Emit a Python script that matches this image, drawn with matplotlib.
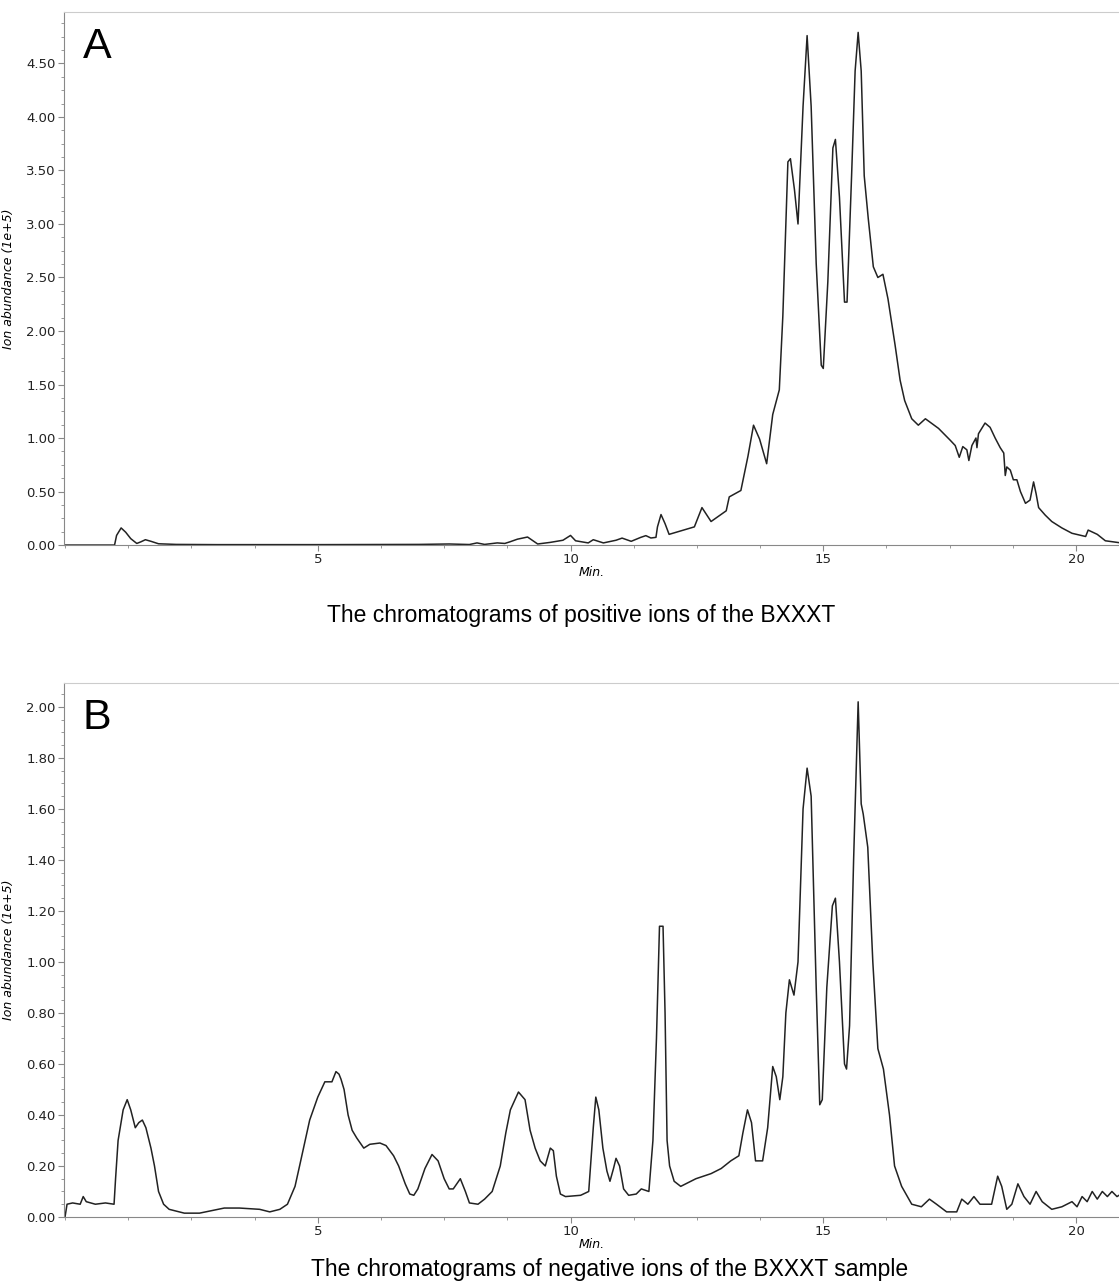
import matplotlib.pyplot as plt
from matplotlib.ticker import MultipleLocator, FormatStrFormatter

# positive ion chromatogram (A)
pos_time = [0, 0.98, 1.02, 1.11, 1.2, 1.3, 1.42, 1.5, 1.59, 1.7, 1.85, 2.2, 3.0, 5.0, 7.0, 7.6,
            8.0, 8.15, 8.3, 8.55, 8.7, 8.8, 8.95, 9.15, 9.35, 9.6, 9.85, 10.0, 10.1, 10.35, 10.45,
            10.65, 10.9, 11.02, 11.2, 11.39, 11.49, 11.59, 11.69, 11.72, 11.79, 11.87, 11.95, 12.45,
            12.60, 12.78, 13.08, 13.14, 13.37, 13.51, 13.62, 13.74, 13.88, 14.00, 14.13, 14.20,
            14.30, 14.35, 14.43, 14.50, 14.60, 14.68, 14.76, 14.86, 14.96, 15.00, 15.09, 15.19,
            15.24, 15.32, 15.42, 15.47, 15.56, 15.63, 15.69, 15.75, 15.81, 15.89, 15.99, 16.08,
            16.18, 16.28, 16.42, 16.52, 16.61, 16.75, 16.88, 17.02, 17.28, 17.51, 17.61, 17.69,
            17.76, 17.84, 17.88, 17.94, 18.02, 18.04, 18.07, 18.20, 18.30, 18.40, 18.50, 18.57,
            18.60, 18.63, 18.70, 18.76, 18.83, 18.90, 19.0, 19.09, 19.16, 19.21, 19.26, 19.39,
            19.52, 19.72, 19.92, 20.19, 20.24, 20.42, 20.58, 20.89]
pos_abund = [0, 0, 0.09, 0.16, 0.12, 0.06, 0.015, 0.03, 0.05, 0.035, 0.012, 0.006, 0.004, 0.004,
             0.006, 0.01, 0.005, 0.02, 0.006, 0.02, 0.015, 0.03, 0.055, 0.075, 0.01, 0.025, 0.045,
             0.09, 0.04, 0.02, 0.05, 0.02, 0.045, 0.065, 0.035, 0.072, 0.088, 0.066, 0.072, 0.17,
             0.285, 0.2, 0.10, 0.17, 0.35, 0.22, 0.32, 0.45, 0.51, 0.83, 1.12, 0.99, 0.76, 1.22,
             1.45, 2.14, 3.58, 3.61, 3.32, 3.0, 4.10, 4.76, 4.10, 2.63, 1.68, 1.65, 2.46, 3.71,
             3.79, 3.25, 2.27, 2.27, 3.45, 4.43, 4.79, 4.43, 3.45, 3.05, 2.60, 2.50, 2.53, 2.30,
             1.87, 1.54, 1.35, 1.18, 1.12, 1.18, 1.09, 0.98, 0.93, 0.82, 0.92, 0.89, 0.79, 0.93,
             1.0, 0.91, 1.04, 1.14, 1.10, 1.0, 0.91, 0.86, 0.65, 0.73, 0.70, 0.61, 0.61, 0.50,
             0.39, 0.42, 0.59, 0.48, 0.35, 0.28, 0.22, 0.16, 0.11, 0.08, 0.14, 0.10, 0.04, 0.02]

# negative ion chromatogram (B)
neg_time = [0.0, 0.04, 0.15, 0.3, 0.36, 0.42, 0.6, 0.8, 0.97, 1.0, 1.05, 1.15, 1.23, 1.3, 1.39,
            1.46, 1.53, 1.6, 1.7, 1.77, 1.85, 1.95, 2.06, 2.36, 2.66, 2.9, 3.15, 3.45, 3.85, 4.05,
            4.25, 4.4, 4.55, 4.64, 4.75, 4.84, 5.0, 5.14, 5.28, 5.36, 5.42, 5.46, 5.52, 5.6, 5.68,
            5.77, 5.91, 6.03, 6.23, 6.35, 6.5, 6.6, 6.73, 6.82, 6.9, 6.98, 7.12, 7.26, 7.38, 7.5,
            7.6, 7.68, 7.82, 7.92, 8.0, 8.17, 8.3, 8.45, 8.61, 8.72, 8.81, 8.97, 9.1, 9.2, 9.3,
            9.4, 9.5, 9.6, 9.66, 9.72, 9.8, 9.9, 10.2, 10.36, 10.45, 10.5, 10.56, 10.64, 10.72,
            10.78, 10.85, 10.9, 10.97, 11.05, 11.15, 11.3, 11.4, 11.55, 11.63, 11.7, 11.76, 11.83,
            11.87, 11.91, 11.96, 12.05, 12.18, 12.48, 12.78, 12.98, 13.17, 13.33, 13.41, 13.5,
            13.58, 13.66, 13.8, 13.9, 14.0, 14.07, 14.14, 14.2, 14.26, 14.33, 14.42, 14.5, 14.6,
            14.68, 14.76, 14.86, 14.93, 14.98, 15.07, 15.18, 15.24, 15.32, 15.42, 15.46, 15.52,
            15.6, 15.69, 15.75, 15.79, 15.88, 15.98, 16.08, 16.19, 16.31, 16.41, 16.55, 16.75,
            16.94, 17.1, 17.24, 17.44, 17.64, 17.74, 17.86, 17.98, 18.1, 18.33, 18.45, 18.53,
            18.63, 18.73, 18.85, 18.97, 19.09, 19.21, 19.33, 19.52, 19.72, 19.92, 20.02, 20.12,
            20.22, 20.32, 20.42, 20.52, 20.62, 20.71, 20.81, 20.89]
neg_abund = [0.0, 0.05, 0.055, 0.05, 0.08, 0.06, 0.05, 0.055, 0.05, 0.15, 0.3, 0.42, 0.46, 0.42,
             0.35, 0.37, 0.38, 0.35, 0.27, 0.2, 0.1, 0.05, 0.03, 0.015, 0.015, 0.025, 0.035,
             0.035, 0.03, 0.02, 0.03, 0.05, 0.12, 0.2, 0.3, 0.38, 0.47, 0.53, 0.53, 0.57, 0.56,
             0.54, 0.5, 0.4, 0.34, 0.31, 0.27, 0.285, 0.29, 0.28, 0.24, 0.2, 0.13, 0.09, 0.085,
             0.11, 0.19, 0.245, 0.22, 0.15, 0.11, 0.11, 0.15, 0.1, 0.055, 0.05, 0.07, 0.1, 0.2,
             0.33, 0.42, 0.49, 0.46, 0.34, 0.27, 0.22, 0.2, 0.27, 0.26, 0.16, 0.09, 0.08, 0.085,
             0.1, 0.35, 0.47, 0.42, 0.27, 0.18, 0.14, 0.19, 0.23, 0.2, 0.11, 0.085, 0.09, 0.11,
             0.1, 0.3, 0.7, 1.14, 1.14, 0.8, 0.3, 0.2, 0.14, 0.12, 0.15, 0.17, 0.19, 0.22, 0.24,
             0.33, 0.42, 0.37, 0.22, 0.22, 0.35, 0.59, 0.55, 0.46, 0.55, 0.8, 0.93, 0.87, 1.0,
             1.6, 1.76, 1.65, 0.9, 0.44, 0.46, 0.9, 1.22, 1.25, 1.0, 0.6, 0.58, 0.75, 1.4, 2.02,
             1.62, 1.58, 1.45, 1.0, 0.66, 0.58, 0.4, 0.2, 0.12, 0.05, 0.04, 0.07, 0.05, 0.02,
             0.02, 0.07, 0.05, 0.08, 0.05, 0.05, 0.16, 0.12, 0.03, 0.05, 0.13, 0.08, 0.05, 0.1,
             0.06, 0.03, 0.04, 0.06, 0.04, 0.08, 0.06, 0.1, 0.07, 0.1, 0.08, 0.1, 0.08, 0.09]

plt.rcParams['font.family'] = 'DejaVu Sans'
fig = plt.figure(figsize=(11.19, 12.84), dpi=100)
axA = fig.add_axes([0.0572, 0.5755, 0.9428, 0.4151])
axB = fig.add_axes([0.0572, 0.0522, 0.9428, 0.4159])

panels = [
    (axA, pos_time, pos_abund, 4.98, 0.5, 0.125, 'A'),
    (axB, neg_time, neg_abund, 2.094, 0.2, 0.05, 'B'),
]

for ax, t, v, ytop, ymaj, ymin, letter in panels:
    ax.plot(t, v, color='#222222', lw=1.1)
    ax.set_xlim(-0.02, 20.85)
    ax.set_ylim(0, ytop)
    ax.xaxis.set_minor_locator(MultipleLocator(1.25))
    ax.yaxis.set_major_locator(MultipleLocator(ymaj))
    ax.yaxis.set_minor_locator(MultipleLocator(ymin))
    ax.yaxis.set_major_formatter(FormatStrFormatter('%.2f'))
    ax.set_xticks([5, 10, 15, 20])
    ax.spines['right'].set_visible(False)
    ax.spines['top'].set_color('#cccccc')
    ax.spines['left'].set_color('#888888')
    ax.spines['bottom'].set_color('#888888')
    ax.tick_params(which='major', length=4, color='#888888', labelsize=9.5,
                   labelcolor='#222222', pad=2)
    ax.tick_params(which='minor', length=2.5, color='#888888')
    ax.set_ylabel('Ion abundance (1e+5)', fontsize=9, style='italic', labelpad=8)
    ax.set_xlabel('Min.', fontsize=9, style='italic', labelpad=0)
    ax.text(0.018, 0.935, letter, transform=ax.transAxes, fontsize=31,
            family='Liberation Sans', va='center', ha='left')

axA.text(0.49, -0.133, 'The chromatograms of positive ions of the BXXXT',
         transform=axA.transAxes, fontsize=16.5, family='Liberation Sans',
         ha='center', va='center')
fig.text(0.545, 0.002, 'The chromatograms of negative ions of the BXXXT sample',
         fontsize=16.5, family='Liberation Sans', ha='center', va='bottom')

fig.savefig('out.png', dpi=100)
